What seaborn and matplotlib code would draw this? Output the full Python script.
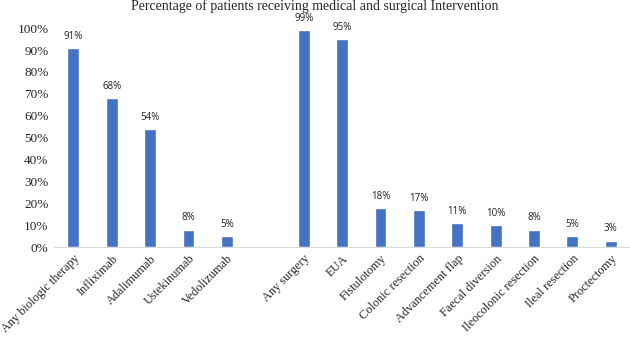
import numpy as np
import pandas as pd
import matplotlib
matplotlib.use("Agg")
import matplotlib.pyplot as plt
import seaborn as sns

categories = ["Any biologic therapy", "Infliximab", "Adalimumab", "Ustekinumab", "Vedolizumab",
              " ",
              "Any surgery", "EUA", "Fistulotomy", "Colonic resection", "Advancement flap",
              "Faecal diversion", "Ileocolonic resection", "Ileal resection", "Proctectomy"]
percent = [91, 68, 54, 8, 5,
           np.nan,
           99, 95, 18, 17, 11, 10, 8, 5, 3]
title = "Percentage of patients receiving medical and surgical Intervention"

df = pd.DataFrame({"category": categories, "share": np.array(percent) / 100})

sns.set_style("white")
plt.rcParams["font.family"] = ["Liberation Serif", "DejaVu Serif"]

fig = plt.figure(figsize=(6.3, 3.39), dpi=100)
ax = fig.add_axes([0.086, 0.271, 0.914, 0.646])

sns.barplot(data=df, x="category", y="share", order=categories, color="#4472C4",
            saturation=1, width=0.31, ax=ax)

# value labels above each bar
for i, v in enumerate(percent):
    if np.isnan(v):
        continue
    ax.text(i, v / 100 + 0.028, f"{int(v)}%", ha="center", va="bottom",
            fontsize=7, family=["Open Sans", "DejaVu Sans"], color="#222222")

ax.set_ylim(0, 1.0)
ax.set_xlim(-0.5, len(categories) - 0.5)
ticks = np.arange(0, 1.01, 0.1)
ax.set_yticks(ticks)
ax.set_yticklabels([f"{int(round(t * 100))}%" for t in ticks], fontsize=9.5)
ax.set_xticks(range(len(categories)))
ax.set_xticklabels(categories, rotation=45, ha="right", rotation_mode="anchor", fontsize=8.8)
ax.tick_params(axis="x", length=0, pad=4)
ax.tick_params(axis="y", length=0, pad=4)
ax.set_xlabel("")
ax.set_ylabel("")
sns.despine(ax=ax, left=True)
ax.spines["bottom"].set_color("#d9d9d9")
ax.spines["bottom"].set_linewidth(0.8)

fig.text(0.5, 1.003, title, ha="center", va="top", fontsize=10)

fig.savefig("out.png", dpi=100)
